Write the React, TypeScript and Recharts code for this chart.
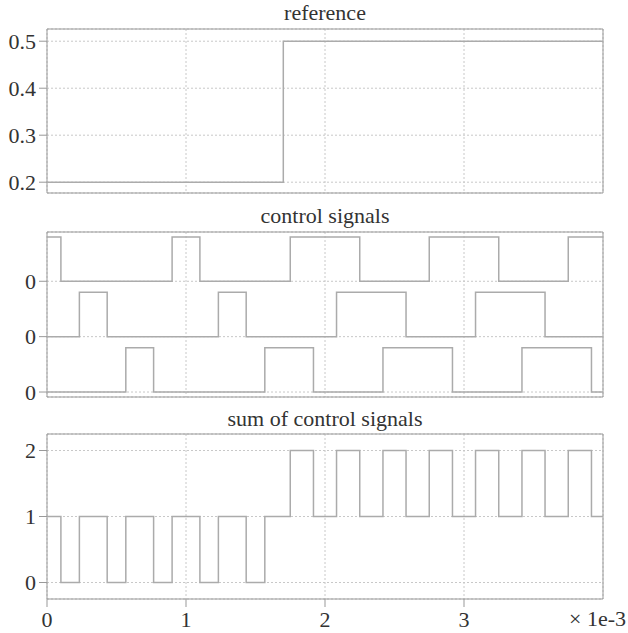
import React from "react";
import {
  LineChart,
  Line,
  XAxis,
  YAxis,
  CartesianGrid,
  ReferenceArea,
} from "recharts";

// time axis in units of 1e-3 s
const refTimes = [0, 1.7, 4];
const refValues = [0.2, 0.5, 0.5];

const sig1Times = [0, 0.1, 0.9, 1.1, 1.75, 2.25, 2.75, 3.25, 3.75, 4];
const sig1Values = [1, 0, 1, 0, 1, 0, 1, 0, 1, 1];
const sig2Times = [0, 0.233, 0.433, 1.233, 1.433, 2.083, 2.583, 3.083, 3.583, 4];
const sig2Values = [0, 1, 0, 1, 0, 1, 0, 1, 0, 0];
const sig3Times = [0, 0.567, 0.767, 1.567, 1.917, 2.417, 2.917, 3.417, 3.917, 4];
const sig3Values = [0, 1, 0, 1, 0, 1, 0, 1, 0, 0];

const sumTimes = [
  0, 0.1, 0.233, 0.433, 0.567, 0.767, 0.9, 1.1, 1.233, 1.433, 1.567, 1.75,
  1.917, 2.083, 2.25, 2.417, 2.583, 2.75, 2.917, 3.083, 3.25, 3.417, 3.583,
  3.75, 3.917, 4,
];
const sumValues = [
  1, 0, 1, 0, 1, 0, 1, 0, 1, 0, 1, 2, 1, 2, 1, 2, 1, 2, 1, 2, 1, 2, 1, 2, 1, 1,
];

const refTicks = [0.2, 0.3, 0.4, 0.5];
const sigTicks = [0, 1, 2];
const sumTicks = [0, 1, 2];
const xTicks = [0, 1, 2, 3];
const xGridTicks = [0, 1, 2, 3, 4];

const zip = (ts: number[], vs: number[], off = 0, amp = 1) =>
  ts.map((t, i) => ({ t, v: off + amp * vs[i] }));

const FONT =
  '"Liberation Serif", LiberationSerif, Times, "Nimbus Roman", "Noto Serif", FreeSerif, "DejaVu Serif", serif';
const LINE = "#ababab";
const BOX = "#999";
const GRID = "#c8c8c8";
const TEXT = "#333";
const tickStyle = { fontSize: 22, fontFamily: FONT, fill: TEXT };

const W = 628;

const Title = ({ top, children }: { top: number; children: string }) => (
  <div
    style={{
      position: "absolute",
      top,
      left: 47,
      width: 556,
      textAlign: "center",
      fontFamily: FONT,
      fontSize: 22,
      lineHeight: "22px",
      color: TEXT,
    }}
  >
    {children}
  </div>
);

export default function App() {
  const refDomain = [0.177, 0.526];
  const sigDomain = [-0.09, 2.89];
  const sumDomain = [-0.25, 2.25];

  return (
    <div style={{ position: "absolute", left: 0, top: 0, width: W, height: 633 }}>
      <Title top={1.6}>reference</Title>
      <Title top={204.6}>control signals</Title>
      <Title top={407.6}>sum of control signals</Title>

      <div style={{ position: "absolute", left: 0, top: 0 }}>
        <LineChart width={W} height={200} margin={{ top: 29, right: 25, bottom: 7, left: 7 }}>
          <CartesianGrid stroke={GRID} strokeDasharray="2 2" />
          <XAxis dataKey="t" type="number" domain={[0, 4]} ticks={xGridTicks} hide />
          <YAxis
            type="number"
            domain={refDomain}
            ticks={refTicks}
            interval={0}
            width={40}
            axisLine={false}
            tickLine={{ stroke: BOX }}
            tickSize={8}
            tickMargin={3}
            tick={tickStyle}
            allowDataOverflow
          />
          <ReferenceArea x1={0} x2={4} y1={refDomain[0]} y2={refDomain[1]} stroke={BOX} fill="none" />
          <Line data={zip(refTimes, refValues)} dataKey="v" type="stepAfter" stroke={LINE} strokeWidth={1.5} dot={false} isAnimationActive={false} />
        </LineChart>
      </div>

      <div style={{ position: "absolute", left: 0, top: 200 }}>
        <LineChart width={W} height={212} margin={{ top: 32, right: 25, bottom: 15, left: 7 }}>
          <CartesianGrid stroke={GRID} strokeDasharray="2 2" />
          <XAxis dataKey="t" type="number" domain={[0, 4]} ticks={xGridTicks} hide />
          <YAxis
            type="number"
            domain={sigDomain}
            ticks={sigTicks}
            interval={0}
            width={40}
            axisLine={false}
            tickLine={{ stroke: BOX }}
            tickSize={8}
            tickMargin={3}
            tick={tickStyle}
            tickFormatter={() => "0"}
            allowDataOverflow
          />
          <ReferenceArea x1={0} x2={4} y1={sigDomain[0]} y2={sigDomain[1]} stroke={BOX} fill="none" />
          <Line data={zip(sig1Times, sig1Values, 2, 0.8)} dataKey="v" type="stepAfter" stroke={LINE} strokeWidth={1.5} dot={false} isAnimationActive={false} />
          <Line data={zip(sig2Times, sig2Values, 1, 0.8)} dataKey="v" type="stepAfter" stroke={LINE} strokeWidth={1.5} dot={false} isAnimationActive={false} />
          <Line data={zip(sig3Times, sig3Values, 0, 0.8)} dataKey="v" type="stepAfter" stroke={LINE} strokeWidth={1.5} dot={false} isAnimationActive={false} />
        </LineChart>
      </div>

      <div style={{ position: "absolute", left: 0, top: 400 }}>
        <LineChart width={W} height={233} margin={{ top: 34, right: 25, bottom: 0, left: 7 }}>
          <CartesianGrid stroke={GRID} strokeDasharray="2 2" />
          <XAxis
            dataKey="t"
            type="number"
            domain={[0, 4]}
            ticks={xTicks}
            interval={0}
            height={34}
            axisLine={false}
            tickLine={{ stroke: BOX }}
            tickSize={8}
            tickMargin={4}
            tick={tickStyle}
            allowDataOverflow
          />
          <YAxis
            type="number"
            domain={sumDomain}
            ticks={sumTicks}
            interval={0}
            width={40}
            axisLine={false}
            tickLine={{ stroke: BOX }}
            tickSize={8}
            tickMargin={3}
            tick={tickStyle}
            allowDataOverflow
          />
          <ReferenceArea x1={0} x2={4} y1={sumDomain[0]} y2={sumDomain[1]} stroke={BOX} fill="none" />
          <Line data={zip(sumTimes, sumValues)} dataKey="v" type="stepAfter" stroke={LINE} strokeWidth={1.5} dot={false} isAnimationActive={false} />
        </LineChart>
      </div>

      <div
        style={{
          position: "absolute",
          top: 608,
          right: 2,
          fontFamily: FONT,
          fontSize: 22,
          lineHeight: "22px",
          color: TEXT,
          whiteSpace: "nowrap",
        }}
      >
        × 1e-3
      </div>
    </div>
  );
}
